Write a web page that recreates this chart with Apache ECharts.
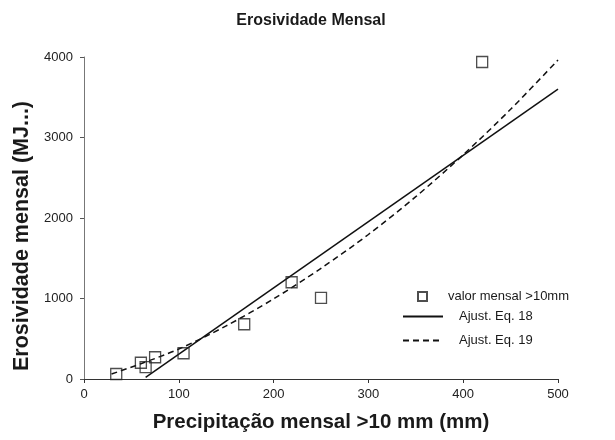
<!DOCTYPE html>
<html>
<head>
<meta charset="utf-8">
<script src="https://cdn.jsdelivr.net/npm/echarts@6/dist/echarts.min.js"></script>
<style>html,body{margin:0;padding:0;background:#fff}#c{width:615px;height:440px}</style>
</head>
<body>
<div id="c"></div>
<script>
// Observed monthly values
var obsX = [34, 60, 65, 75, 105, 169, 219, 250, 420];
var obsY = [62, 202, 147, 270, 320, 680, 1202, 1008, 3938];
// Fit Eq. 18 (straight line) endpoints
var eq18X = [65, 500];
var eq18Y = [21, 3602];
// Fit Eq. 19 (curve) points
var eq19X = [29, 60, 100, 150, 200, 250, 300, 350, 400, 450, 500];
var eq19Y = [62, 190, 372, 660, 995, 1375, 1795, 2265, 2785, 3350, 3963];
var xTicks = [0, 100, 200, 300, 400, 500];
var yTicks = [0, 1000, 2000, 3000, 4000];

function pairs(xs, ys) { return xs.map(function (x, i) { return [x, ys[i]]; }); }

var font = 'Liberation Sans, Arial, sans-serif';
var chart = echarts.init(document.getElementById('c'), null, { renderer: 'canvas' });
chart.setOption({
  animation: false,
  backgroundColor: '#fff',
  title: {
    text: 'Erosividade Mensal', left: 306, top: 8, textAlign: 'center',
    textStyle: { fontFamily: font, fontSize: 16, fontWeight: 'bold', color: '#1a1a1a' }
  },
  grid: { left: 84, right: 57, top: 57, bottom: 61 },
  legend: [
    { data: ['valor mensal >10mm'], left: 412, top: 285, orient: 'vertical', itemWidth: 9, itemHeight: 9,
      textStyle: { fontFamily: font, fontSize: 13, color: '#1a1a1a', padding: [0, 0, 0, 16] } },
    { data: ['Ajust. Eq. 18'], left: 397, top: 305, itemWidth: 40, itemHeight: 12,
      itemStyle: { opacity: 0 },
      textStyle: { fontFamily: font, fontSize: 13, color: '#1a1a1a', padding: [0, 0, 0, 11] } },
    { data: ['Ajust. Eq. 19'], left: 397, top: 329, itemWidth: 40, itemHeight: 12,
      itemStyle: { opacity: 0 },
      textStyle: { fontFamily: font, fontSize: 13, color: '#1a1a1a', padding: [0, 0, 0, 11] } }
  ],
  xAxis: {
    type: 'value', min: xTicks[0], max: xTicks[xTicks.length - 1], interval: 100,
    name: 'Precipitação mensal >10 mm (mm)', nameLocation: 'middle', nameGap: 33,
    nameTextStyle: { fontFamily: font, fontSize: 20.5, fontWeight: 'bold', color: '#1a1a1a' },
    axisLine: { lineStyle: { color: '#333', width: 1 } },
    axisTick: { show: true, inside: false, length: 4, lineStyle: { color: '#333' } },
    axisLabel: { fontFamily: font, fontSize: 13, color: '#222', margin: 9 },
    splitLine: { show: false }
  },
  yAxis: {
    type: 'value', min: yTicks[0], max: yTicks[yTicks.length - 1], interval: 1000,
    name: 'Erosividade mensal (MJ...)', nameLocation: 'middle', nameGap: 36,
    nameTextStyle: { fontFamily: font, fontSize: 21.5, fontWeight: 'bold', color: '#1a1a1a', padding: [0, 36, 0, 0] },
    axisLine: { show: true, lineStyle: { color: '#777', width: 1 } },
    axisTick: { show: true, inside: false, length: 4, lineStyle: { color: '#555' } },
    axisLabel: { fontFamily: font, fontSize: 13, color: '#222', margin: 11, formatter: function (v) { return String(v); } },
    splitLine: { show: false }
  },
  series: [
    {
      name: 'Ajust. Eq. 18', type: 'line', data: pairs(eq18X, eq18Y), symbol: 'none',
      lineStyle: { color: '#111', width: 1.5, type: 'solid' }, itemStyle: { color: '#111' }, z: 2
    },
    {
      name: 'Ajust. Eq. 19', type: 'line', data: pairs(eq19X, eq19Y), symbol: 'none', smooth: 0.3,
      lineStyle: { color: '#111', width: 1.5, type: [6, 4] }, itemStyle: { color: '#111' }, z: 2
    },
    {
      name: 'valor mensal >10mm', type: 'scatter', data: pairs(obsX, obsY), symbol: 'rect', symbolSize: 11,
      itemStyle: { color: 'rgba(255,255,255,0)', borderColor: '#222', borderWidth: 1.3 }, z: 3
    }
  ]
});
</script>
</body>
</html>
